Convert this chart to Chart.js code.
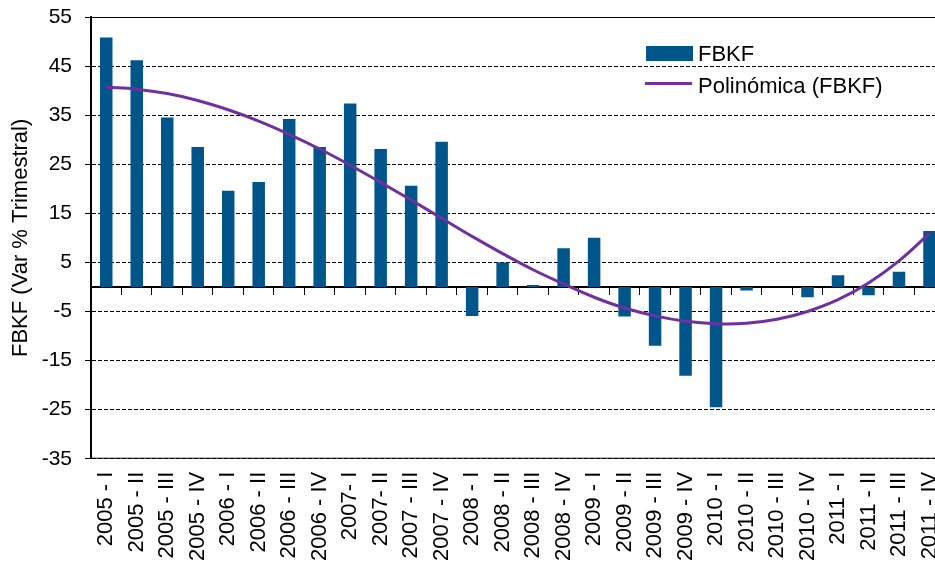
<!DOCTYPE html>
<html>
<head>
<meta charset="utf-8">
<title>FBKF</title>
<script src="https://cdn.jsdelivr.net/npm/chart.js@4.4.0/dist/chart.umd.min.js"></script>
<style>
  html, body { margin: 0; padding: 0; background: #fff; overflow: hidden; }
  #wrap { position: relative; width: 969px; height: 620px; }
</style>
</head>
<body>
<div id="wrap"><canvas id="chartFbkf"></canvas></div>
<script>
// datos (Var % trimestral)
const quarters = [
    '2005 - I', '2005 - II', '2005 - III', '2005 - IV',
    '2006 - I', '2006 - II', '2006 - III', '2006 - IV',
    '2007- I', '2007- II', '2007 - III', '2007 - IV',
    '2008 - I', '2008 - II', '2008 - III', '2008 - IV',
    '2009 - I', '2009 - II', '2009 - III', '2009 - IV',
    '2010 - I', '2010 - II', '2010 - III', '2010 - IV',
    '2011 - I', '2011 - II', '2011 - III', '2011 - IV'
];
const fbkf = [
    50.8, 46.2, 34.5, 28.5,
    19.6, 21.4, 34.2, 28.5,
    37.4, 28.1, 20.6, 29.6,
    -5.9, 5.0, 0.4, 7.9,
    10.0, -6.0, -12.0, -18.1,
    -24.5, -0.7, 0, -2.1,
    2.4, -1.7, 3.1, 11.4
];
const fbkfTrend = [
    40.7, 40.3, 39.4, 38.0,
    36.1, 33.8, 31.1, 28.1,
    24.8, 21.3, 17.7, 14.0,
    10.3, 6.8, 3.5, 0.6,
    -2.1, -4.3, -5.9, -7.0,
    -7.5, -7.4, -6.6, -5.0,
    -2.6, 0.8, 5.3, 10.9
];
const yMin = -35;
const yMax = 55;
const yStep = 10;

const FONT = "'Liberation Sans', Arial, sans-serif";
const BAR_COLOR = '#00558b';
const TREND_COLOR = '#7030a0';

// marco superior/inferior + leyenda dentro del area
const fbkfExtras = {
    id: 'fbkfExtras',
    beforeDatasetsDraw(chart) {
        const { ctx, chartArea: a } = chart;
        ctx.save();
        ctx.strokeStyle = '#000';
        ctx.lineWidth = 1;
        ctx.beginPath();
        ctx.moveTo(a.left, a.top + 0.5);
        ctx.lineTo(a.right, a.top + 0.5);
        ctx.moveTo(a.left, a.bottom - 0.5);
        ctx.lineTo(a.right, a.bottom - 0.5);
        ctx.stroke();
        ctx.restore();
    },
    afterDraw(chart) {
        const ctx = chart.ctx;
        const ds = chart.data.datasets;
        ctx.save();
        ctx.font = '22px ' + FONT;
        ctx.fillStyle = '#000';
        ctx.textBaseline = 'alphabetic';
        // barra
        ctx.fillStyle = ds[1].backgroundColor;
        ctx.fillRect(646, 46, 47, 15);
        ctx.fillStyle = '#000';
        ctx.fillText(ds[1].label, 698, 61);
        // linea
        ctx.strokeStyle = ds[0].borderColor;
        ctx.lineWidth = 3;
        ctx.beginPath();
        ctx.moveTo(645, 83.5);
        ctx.lineTo(692, 83.5);
        ctx.stroke();
        ctx.fillText(ds[0].label, 698, 93);
        ctx.restore();
    }
};

new Chart(document.getElementById('chartFbkf'), {
    type: 'bar',
    data: {
        labels: quarters,
        datasets: [
            {
                type: 'line',
                label: 'Polinómica (FBKF)',
                data: fbkfTrend,
                borderColor: TREND_COLOR,
                borderWidth: 3,
                pointRadius: 0,
                tension: 0.4,
                fill: false,
                order: 1
            },
            {
                label: 'FBKF',
                data: fbkf,
                backgroundColor: BAR_COLOR,
                categoryPercentage: 1,
                barPercentage: 0.41,
                order: 2
            }
        ]
    },
    options: {
        responsive: true,
        maintainAspectRatio: false,
        animation: false,
        layout: { padding: { top: 17, right: 6, left: 0, bottom: 46 } },
        plugins: {
            legend: { display: false },
            tooltip: { enabled: false }
        },
        scales: {
            // eje en cero: solo linea y marcas
            x: {
                position: { y: 0 },
                offset: true,
                grid: {
                    display: true,
                    offset: true,
                    drawOnChartArea: false,
                    drawTicks: true,
                    tickLength: 7,
                    color: '#000',
                    lineWidth: 1
                },
                border: { display: true, color: '#000', width: 2 },
                ticks: { display: false }
            },
            // eje de etiquetas abajo
            x2: {
                type: 'category',
                position: 'bottom',
                offset: true,
                grid: { display: false, drawTicks: false },
                border: { display: false },
                ticks: {
                    color: '#000',
                    font: { family: FONT, size: 22 },
                    maxRotation: 90,
                    minRotation: 90,
                    autoSkip: false,
                    padding: 13
                }
            },
            y: {
                min: yMin,
                max: yMax,
                afterFit(scale) {
                    scale.width = 91;
                    scale.paddingTop = 0;
                    scale.paddingBottom = 0;
                },
                ticks: {
                    stepSize: yStep,
                    color: '#000',
                    font: { family: FONT, size: 21 },
                    padding: 13
                },
                grid: {
                    color: '#000',
                    lineWidth: 1,
                    tickLength: 6,
                    tickBorderDash: [],
                    borderDash: [4, 2]
                },
                border: { display: true, color: '#000', width: 2, dash: [4, 2] },
                title: {
                    display: true,
                    text: 'FBKF (Var % Trimestral)',
                    color: '#000',
                    font: { family: FONT, size: 22 },
                    padding: { top: 8, bottom: 0 }
                }
            }
        }
    },
    plugins: [fbkfExtras]
});
</script>
</body>
</html>
